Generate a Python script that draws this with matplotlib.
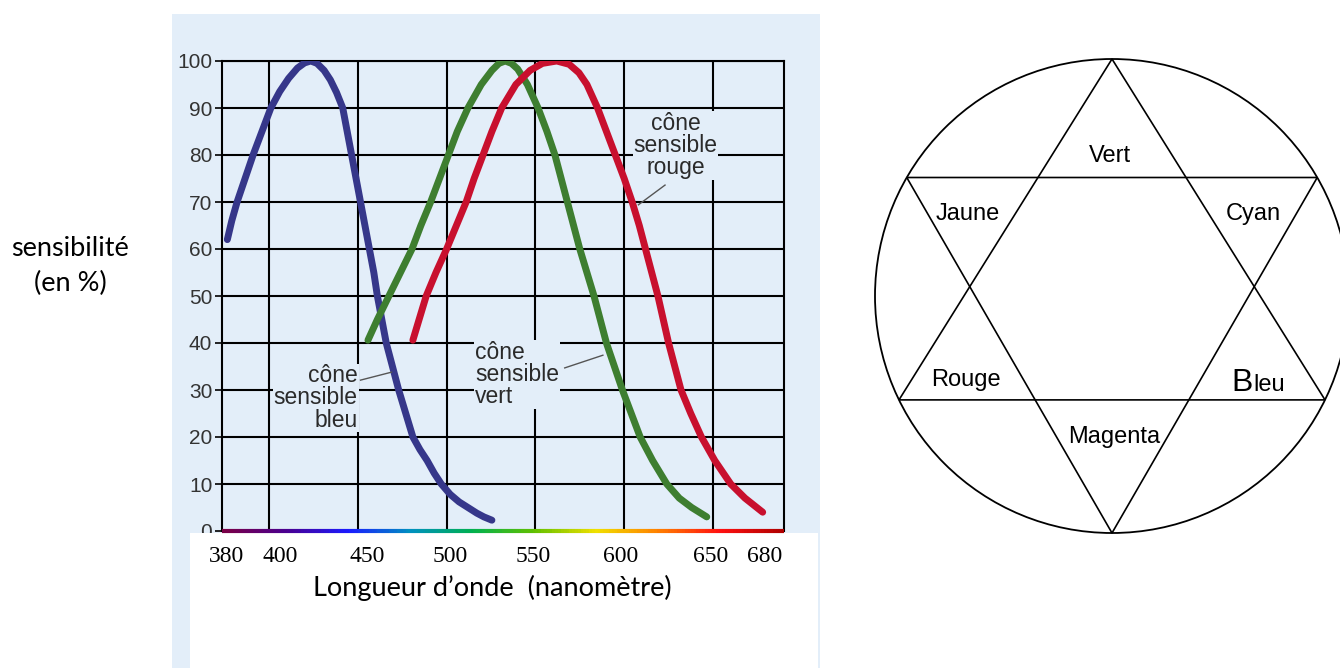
import numpy as np
import matplotlib
matplotlib.use('Agg')
import matplotlib.pyplot as plt
from matplotlib.collections import LineCollection
from matplotlib.colors import LinearSegmentedColormap
from matplotlib.patches import Rectangle, Circle, Polygon
from matplotlib.transforms import Bbox, TransformedBbox

# courbes de sensibilite des cones
bleu_x = [376.5, 379, 382, 386.5, 391, 396, 401, 406, 411, 416, 420, 423.5, 427, 431, 434.5,
          438, 441.5, 444, 446.5, 449, 451.5, 454, 456.5, 459, 461, 463.5, 466, 469.5, 473,
          477, 481, 485, 489, 493, 497, 502, 507, 512, 517, 521, 525.5]
bleu_y = [62, 66, 70, 75, 80, 85, 90, 93.5, 96.3, 98.5, 99.6, 100, 99.5, 98, 96,
          93.3, 90, 85, 80, 75, 70, 65, 60, 55, 50, 45, 40, 35, 30,
          25, 20, 17.3, 15, 12.3, 10, 7.8, 6.2, 5, 3.8, 3, 2.3]

vert_x = [455.7, 461, 467.5, 474, 480.5, 485.5, 491, 496, 501, 506, 512, 519.5, 525.5, 529.5,
          533, 536.5, 540, 545.5, 551.5, 556.5, 561, 564.5, 568, 571.5, 575, 579, 583, 586.5,
          590, 594.5, 599, 604, 609, 616, 624, 631, 638, 646.5]
vert_y = [40.6, 45, 50, 55, 60, 65, 70, 75, 80, 85, 90, 95, 98, 99.5,
          100, 99.5, 98.3, 95, 90, 85, 80, 75, 70, 65, 60, 55, 50, 45,
          40, 35, 30, 25, 20, 15, 10, 7, 5, 3]

rouge_x = [481, 484.5, 488.5, 494, 500, 505.5, 511, 515.5, 520.5, 525.5, 531, 539, 547, 554,
           562, 569, 574.5, 579, 585, 590, 595, 600, 604.5, 608.5, 612, 615.5, 619, 622,
           625, 628.5, 632, 637.5, 643.5, 651, 660, 668, 678]
rouge_y = [40.6, 45, 50, 55, 60, 65, 70, 75, 80, 85, 90, 95, 98, 99.5,
           100, 99.3, 97.5, 95, 90, 85, 80, 75, 70, 65, 60, 55, 50, 45,
           40, 35, 30, 25, 20, 15, 10, 7, 4]

# graduations ecrites a la main sous le graphique (valeur, endroit ou elle est posee)
xtick_labels = ['380', '400', '450', '500', '550', '600', '650', '680']
xtick_pos = [376, 406.5, 455.5, 502, 548.5, 598, 648.5, 679]
xgrid_vals = [400, 450, 500, 550, 600, 650]
ytick_vals = list(range(0, 101, 10))

couleurs_etoile = ['Vert', 'Jaune', 'Cyan', 'Rouge', 'Magenta']

fond = '#e3eef9'
W, H = 1340, 668

fig = plt.figure(figsize=(W / 100, H / 100), dpi=100)
fig.patch.set_facecolor('white')

# axe de fond en pixels
bg = fig.add_axes([0, 0, 1, 1], zorder=0)
bg.set_xlim(0, W)
bg.set_ylim(H, 0)
bg.axis('off')
bg.add_patch(Rectangle((172, 14), 648, 660, facecolor=fond, edgecolor='none'))
bg.add_patch(Rectangle((190, 533), 628, 140, facecolor='white', edgecolor='none'))

bg.text(70, 248, 'sensibilité', family='Lato', fontsize=19.5, ha='center', va='center')
bg.text(70, 283, '(en %)', family='Lato', fontsize=19.5, ha='center', va='center')
bg.text(492, 588, 'Longueur d’onde  (nanomètre)', family='Lato', fontsize=19.5,
        ha='center', va='center')

# etoile dans le cercle
cx, cy, r = 1112, 296, 237
bg.add_patch(Circle((cx, cy), r, fill=False, edgecolor='black', lw=1.3, clip_on=False))
for angles in ([90, 206, 334], [270, 150, 30]):
    a = np.radians(angles)
    pts = np.column_stack([cx + r * np.cos(a), cy - r * np.sin(a)])
    bg.add_patch(Polygon(pts, closed=True, fill=False, edgecolor='black', lw=1.2))

pos_labels = [(1110, 162), (968, 220), (1253, 220), (966, 386), (1114, 443)]
for nom, (px, py) in zip(couleurs_etoile, pos_labels):
    bg.text(px, py, nom, family='Liberation Sans', fontsize=17, ha='center', va='baseline')
bg.text(1253, 391, 'B', family='Liberation Sans', fontsize=23, ha='right', va='baseline')
bg.text(1253, 391, 'leu', family='Liberation Sans', fontsize=17, ha='left', va='baseline')

# graphique
ax = fig.add_axes([222 / W, 1 - 531 / H, 562 / W, 470 / H], zorder=1)
ax.set_facecolor(fond)
ax.set_xlim(373.5, 690)
ax.set_ylim(0, 100)

ax.xaxis.remove_overlapping_locs = False
ax.set_xticks(xtick_pos)
ax.set_xticklabels(xtick_labels, family='Liberation Serif', fontsize=17)
ax.set_xticks(xgrid_vals, minor=True)
ax.tick_params(axis='x', which='both', length=0, pad=11)
ax.set_yticks(ytick_vals)
ax.set_yticklabels([str(v) for v in ytick_vals], family='Liberation Sans', fontsize=15, color='#333333')
ax.tick_params(axis='y', length=5, width=1.2, pad=2)
ax.xaxis.grid(True, which='minor', color='black', lw=1.5)
ax.xaxis.grid(False, which='major')
ax.yaxis.grid(True, which='major', color='black', lw=1.5)
ax.set_axisbelow(True)
for s in ['left', 'top', 'right']:
    ax.spines[s].set_linewidth(1.5)
ax.spines['bottom'].set_visible(False)

# le "0" est en partie cache par le cadre blanc
lab0 = ax.yaxis.get_major_ticks()[0].label1
lab0.set_clip_box(TransformedBbox(Bbox([[0, 1 - 533 / H], [1, 1]]), fig.transFigure))
lab0.set_clip_on(True)

# trait colore du spectre sur l'axe horizontal
spectre = LinearSegmentedColormap.from_list('spectre', [
    '#7a0046', '#4a0090', '#1a1aff', '#0090c0', '#00b050', '#60c000',
    '#f0e000', '#ff8000', '#ff1010', '#b00000'])
xs = np.linspace(373.5, 690, 200)
segs = np.stack([np.column_stack([xs[:-1], np.zeros(199)]),
                 np.column_stack([xs[1:], np.zeros(199)])], axis=1)
lc = LineCollection(segs, colors=spectre(np.linspace(0, 1, 199)), lw=3, clip_on=False, zorder=3)
ax.add_collection(lc)

style = dict(lw=5, solid_capstyle='round', solid_joinstyle='round', zorder=4)
ax.plot(bleu_x, bleu_y, color='#36378a', **style)
ax.plot(vert_x, vert_y, color='#3e7e30', **style)
ax.plot(rouge_x, rouge_y, color='#c8102e', **style)

# etiquettes des cones
txt = dict(family='Liberation Sans', fontsize=16.5, color='#2a2a2a', linespacing=0.95, zorder=5,
           bbox=dict(facecolor=fond, edgecolor='none', pad=0.5))
ax.text(629, 82, 'cône\nsensible\nrouge', ha='center', va='center', multialignment='center', **txt)
ax.plot([623, 608], [73.6, 69.4], color='#555555', lw=1, zorder=5)

ax.text(450, 28.3, 'cône\nsensible\nbleu', ha='right', va='center', multialignment='right', **txt)
ax.plot([451.5, 469], [32.1, 33.8], color='#555555', lw=1, zorder=5)

ax.text(516, 33.3, 'cône\nsensible\nvert', ha='left', va='center', multialignment='left', **txt)
ax.plot([566.5, 588], [34.7, 37.4], color='#555555', lw=1, zorder=5)

fig.savefig('out.png', dpi=100)
